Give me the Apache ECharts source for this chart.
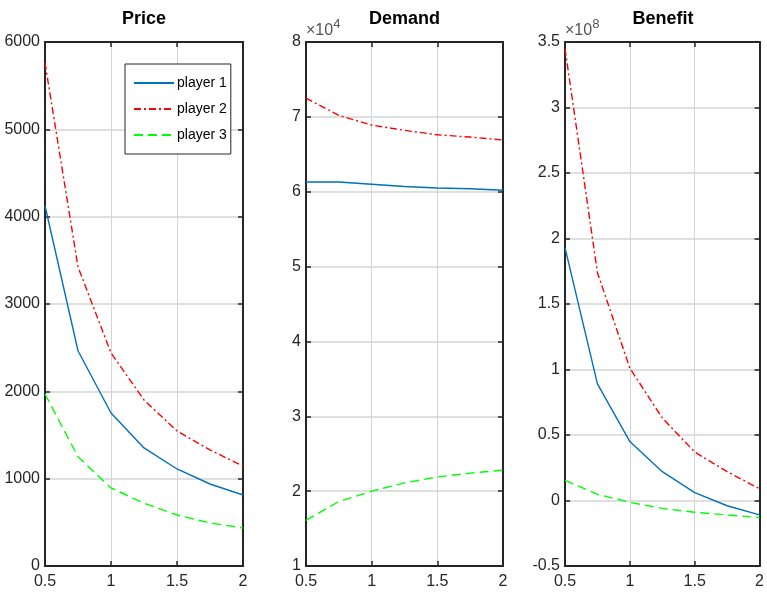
<!DOCTYPE html>
<html>
<head>
<meta charset="utf-8">
<script src="https://cdn.jsdelivr.net/npm/echarts@6/dist/echarts.min.js"></script>
<style>
  html, body { margin: 0; padding: 0; background: #fff; }
  #chart { width: 767px; height: 602px; }
</style>
</head>
<body>
<div id="chart"></div>
<script>
// x values shared by all three panels
const xVals = [0.5, 0.75, 1, 1.25, 1.5, 1.75, 2];
const names = ["player 1", "player 2", "player 3"];

// Price
const price1 = [4125, 2465, 1752, 1352, 1111, 939, 813];
const price2 = [5762, 3425, 2440, 1901, 1546, 1329, 1145];
const price3 = [1970, 1250, 893, 720, 584, 493, 435];

// Demand (x10^4)
const demand1 = [6.13, 6.13, 6.10, 6.07, 6.05, 6.04, 6.02];
const demand2 = [7.25, 7.02, 6.89, 6.82, 6.76, 6.73, 6.69];
const demand3 = [1.61, 1.86, 2.00, 2.11, 2.19, 2.24, 2.28];

// Benefit (x10^8)
const benefit1 = [1.93, 0.89, 0.45, 0.22, 0.06, -0.04, -0.11];
const benefit2 = [3.45, 1.74, 1.01, 0.63, 0.37, 0.22, 0.09];
const benefit3 = [0.154, 0.047, -0.014, -0.06, -0.09, -0.11, -0.13];

const titles = ["Price", "Demand", "Benefit"];
const yRanges = [
  { min: 0, max: 6000, interval: 1000, exp: null },
  { min: 1, max: 8, interval: 1, exp: "4" },
  { min: -0.5, max: 3.5, interval: 0.5, exp: "8" },
];
const panelData = [
  [price1, price2, price3],
  [demand1, demand2, demand3],
  [benefit1, benefit2, benefit3],
];

const FONT = "'Liberation Sans', Arial, sans-serif";
const axisColor = "#262626";
const colors = ["#0072BD", "#FF0000", "#00FF00"];
const lineTypes = ["solid", [7, 3, 2, 3], [9, 5]];

const grids = [
  { left: 45, top: 42, width: 198, height: 524 },
  { left: 306, top: 42, width: 197, height: 524 },
  { left: 565, top: 42, width: 196, height: 524 },
];

const xAxes = [];
const yAxes = [];
const series = [];
const title = [];

grids.forEach((g, i) => {
  title.push({
    text: titles[i],
    left: g.left + g.width / 2,
    top: 10,
    textAlign: "center",
    padding: 0,
    textStyle: { fontFamily: FONT, fontSize: 18, fontWeight: "bold", color: "#000" },
  });
  const common = {
    type: "value",
    gridIndex: i,
    axisLine: { show: true, onZero: false, lineStyle: { color: axisColor, width: 2 } },
    axisTick: { show: true, inside: true, length: 5, lineStyle: { color: axisColor, width: 1.5 } },
  };
  // bottom x
  xAxes.push(Object.assign({}, common, {
    position: "bottom",
    min: 0.5, max: 2, interval: 0.5,
    axisLabel: { margin: 8, fontFamily: FONT, fontSize: 16, color: axisColor },
    splitLine: { show: true, lineStyle: { color: "#d4d4d4", width: 1 } },
  }));
  // top x (box)
  xAxes.push(Object.assign({}, common, {
    position: "top",
    min: 0.5, max: 2, interval: 0.5,
    axisLabel: { show: false },
    splitLine: { show: false },
  }));
  const yr = yRanges[i];
  const yLeft = Object.assign({}, common, {
    position: "left",
    min: yr.min, max: yr.max, interval: yr.interval,
    axisLabel: {
      margin: 5, fontFamily: FONT, fontSize: 16, color: axisColor,
      formatter: (v) => String(v),
    },
    splitLine: { show: true, lineStyle: { color: "#d4d4d4", width: 1.5 } },
  });
  if (yr.exp) {
    yLeft.name = "{b|×10}{s|" + yr.exp + "}";
    yLeft.nameLocation = "end";
    yLeft.nameGap = 3;
    yLeft.nameTextStyle = {
      align: "left",
      rich: {
        b: { fontFamily: FONT, fontSize: 16, color: "#555", verticalAlign: "bottom" },
        s: { fontFamily: FONT, fontSize: 13, color: "#555", verticalAlign: "bottom", padding: [0, 0, 8, 0] },
      },
    };
  }
  yAxes.push(yLeft);
  yAxes.push(Object.assign({}, common, {
    position: "right",
    min: yr.min, max: yr.max, interval: yr.interval,
    axisLabel: { show: false },
    splitLine: { show: false },
  }));

  panelData[i].forEach((vals, k) => {
    series.push({
      name: names[k],
      type: "line",
      xAxisIndex: i * 2,
      yAxisIndex: i * 2,
      data: xVals.map((x, j) => [x, vals[j]]),
      showSymbol: false,
      symbol: "none",
      silent: true,
      color: colors[k],
      lineStyle: { color: colors[k], width: 1.4, type: lineTypes[k] },
    });
  });
});

const chart = echarts.init(document.getElementById("chart"), null, { renderer: "canvas" });
chart.setOption({
  animation: false,
  backgroundColor: "#fff",
  title: title,
  grid: grids,
  xAxis: xAxes,
  yAxis: yAxes,
  legend: {
    data: names,
    orient: "vertical",
    left: 125,
    top: 64,
    padding: [12, 4, 12, 8],
    itemWidth: 40,
    itemHeight: 14,
    itemGap: 12,
    itemStyle: { opacity: 0 },
    backgroundColor: "#fff",
    borderColor: axisColor,
    borderWidth: 1,
    borderRadius: 0,
    textStyle: { fontFamily: FONT, fontSize: 14, color: "#000", padding: [0, 0, 0, -2] },
  },
  series: series,
});
</script>
</body>
</html>
